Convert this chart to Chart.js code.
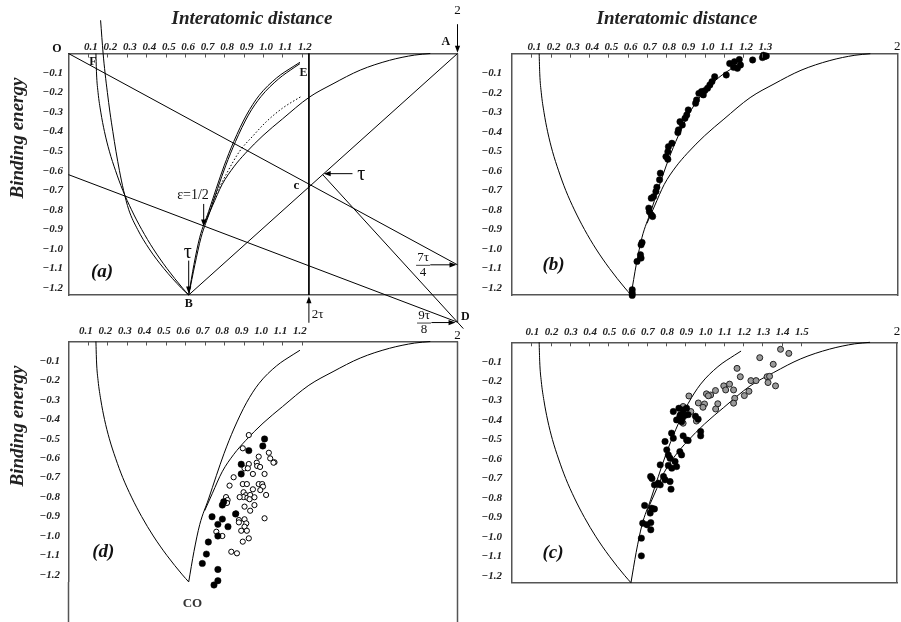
<!DOCTYPE html>
<html><head><meta charset="utf-8">
<script src="https://cdn.jsdelivr.net/npm/chart.js@4.4.1/dist/chart.umd.min.js"></script>
<style>
html,body{margin:0;padding:0;background:#fff;}
#wrap{position:relative;width:901px;height:622px;overflow:hidden;background:#fff;}
canvas{position:absolute;left:0;top:0;pointer-events:none;}
</style></head><body>
<div id="wrap">
<canvas id="ca" width="901" height="622"></canvas>
<canvas id="cb" width="901" height="622"></canvas>
<canvas id="cd" width="901" height="622"></canvas>
<canvas id="cc" width="901" height="622"></canvas>
</div>
<script>
// ---------------- tick labels ----------------
const xTicksA = [0.1,0.2,0.3,0.4,0.5,0.6,0.7,0.8,0.9,1.0,1.1,1.2];
const xTicksB = [0.1,0.2,0.3,0.4,0.5,0.6,0.7,0.8,0.9,1.0,1.1,1.2,1.3];
const xTicksC = [0.1,0.2,0.3,0.4,0.5,0.6,0.7,0.8,0.9,1.0,1.1,1.2,1.3,1.4,1.5];
const xTicksD = [0.1,0.2,0.3,0.4,0.5,0.6,0.7,0.8,0.9,1.0,1.1,1.2];
const yTicks  = [-0.1,-0.2,-0.3,-0.4,-0.5,-0.6,-0.7,-0.8,-0.9,-1.0,-1.1,-1.2];

// ---------------- curves ----------------
const leftCurve  = [[0.141,0],[0.144,-0.1],[0.152,-0.2],[0.166,-0.3],[0.185,-0.4],[0.21,-0.5],[0.242,-0.6],[0.279,-0.7],[0.324,-0.8],[0.376,-0.9],[0.436,-1.0],[0.506,-1.1],[0.586,-1.2],[0.618,-1.236]];
const innerCurve = [[0.618,-1.236],[0.645,-1.08],[0.675,-0.94],[0.72,-0.81],[0.76,-0.69],[0.80,-0.575],[0.85,-0.45],[0.915,-0.315],[0.98,-0.215],[1.07,-0.125],[1.155,-0.067],[1.19,-0.045]];
const outerCurve = [[0.7,-0.87],[0.74,-0.78],[0.79,-0.67],[0.85,-0.58],[0.91,-0.51],[1.0,-0.42],[1.1,-0.335],[1.236,-0.225],[1.36,-0.155],[1.5,-0.085],[1.65,-0.035],[1.78,-0.008],[1.86,0]];
// panel (a) extra curves
const leftCurveA2  = [[0.165,0.17],[0.178,0],[0.188,-0.1],[0.2,-0.2],[0.213,-0.3],[0.228,-0.4],[0.244,-0.5],[0.262,-0.6],[0.283,-0.7],[0.31,-0.8],[0.355,-0.9],[0.415,-1.0],[0.49,-1.1],[0.58,-1.2],[0.618,-1.236]];
const innerCurveA2 = [[0.618,-1.236],[0.65,-1.08],[0.682,-0.94],[0.727,-0.81],[0.767,-0.69],[0.808,-0.575],[0.859,-0.45],[0.925,-0.315],[0.99,-0.22],[1.08,-0.13],[1.16,-0.072],[1.19,-0.052]];
const dottedCurveA = [[0.7,-0.87],[0.75,-0.74],[0.81,-0.62],[0.88,-0.5],[0.95,-0.42],[1.016,-0.35],[1.1,-0.28],[1.196,-0.22]];
// panel (a) straight construction lines
const lineOD     = [[0,0],[2,-1.0815]];
const lineFD     = [[0,-0.62],[2,-1.375]];
const lineBA     = [[0.618,-1.236],[2,0]];
const lineTauD   = [[1.307,-0.62],[2.03,-1.408]];
const line2tau   = [[1.236,0],[1.236,-1.236]];
const edgeRightA = [[2,0],[2,-1.375]];
// panel (d) extended frame
const edgeLeftD  = [[0,-1.236],[0,-1.5]];
const edgeRightD = [[2,0],[2,-1.5]];

// ---------------- data points ----------------
const bPoints = [[1.31,-0.015],[1.30,-0.02],[1.32,-0.012],[1.305,-0.008],[1.249,-0.032],
[1.186,-0.058],[1.155,-0.041],[1.18,-0.03],[1.13,-0.05],[1.15,-0.07],[1.17,-0.075],[1.112,-0.109],
[1.052,-0.118],[1.038,-0.143],[1.027,-0.16],[1.015,-0.177],[1.001,-0.189],[0.984,-0.194],[0.993,-0.211],[0.97,-0.203],[0.958,-0.237],[0.953,-0.254],
[0.915,-0.288],[0.907,-0.314],[0.898,-0.331],[0.872,-0.348],[0.884,-0.365],[0.864,-0.39],[0.861,-0.404],
[0.83,-0.459],[0.812,-0.476],[0.809,-0.502],[0.799,-0.527],[0.809,-0.541],
[0.77,-0.612],[0.766,-0.646],[0.752,-0.684],[0.747,-0.706],[0.735,-0.732],[0.723,-0.74],
[0.71,-0.791],[0.713,-0.809],[0.723,-0.825],[0.73,-0.834],
[0.675,-0.967],[0.67,-0.979],[0.667,-1.03],[0.67,-1.047],[0.649,-1.064],
[0.624,-1.209],[0.624,-1.226],[0.624,-1.238]];

const cBlack = [[0.838,-0.356],[0.867,-0.339],[0.889,-0.348],[0.907,-0.339],[0.872,-0.38],[0.885,-0.39],[0.9,-0.375],[0.875,-0.372],
[0.855,-0.399],[0.881,-0.408],[0.915,-0.372],[0.953,-0.38],[0.967,-0.395],
[0.98,-0.459],[0.98,-0.481],[0.829,-0.467],[0.838,-0.493],[0.795,-0.51],[0.889,-0.481],[0.907,-0.502],[0.915,-0.505],
[0.804,-0.553],[0.812,-0.579],[0.821,-0.596],[0.872,-0.562],[0.881,-0.579],
[0.77,-0.63],[0.847,-0.613],[0.855,-0.639],[0.83,-0.647],[0.812,-0.633],
[0.72,-0.69],[0.727,-0.70],[0.787,-0.69],[0.795,-0.707],[0.76,-0.724],[0.77,-0.733],[0.74,-0.733],[0.821,-0.716],[0.826,-0.755],
[0.689,-0.839],[0.726,-0.853],[0.718,-0.878],[0.74,-0.857],[0.679,-0.93],[0.701,-0.938],[0.721,-0.927],[0.721,-0.964],
[0.672,-1.007],[0.672,-1.098]];

const cGrey = [[1.395,-0.036],[1.438,-0.057],[1.287,-0.079],[1.357,-0.113],[1.169,-0.134],[1.186,-0.177],[1.325,-0.177],[1.338,-0.175],
[1.241,-0.197],[1.268,-0.197],[1.33,-0.207],[1.369,-0.224],[1.10,-0.224],[1.13,-0.215],[1.11,-0.245],[1.151,-0.245],
[1.057,-0.248],[1.231,-0.252],[1.207,-0.274],[1.157,-0.288],[1.032,-0.271],[1.01,-0.265],[1.02,-0.275],[0.919,-0.276],
[1.0,-0.317],[1.069,-0.316],[0.968,-0.312],[0.992,-0.334],[1.058,-0.343],[1.151,-0.313],[0.889,-0.33],[0.929,-0.356],
[0.958,-0.405],[0.889,-0.416]];

const dFilled = [[1.008,-0.501],[0.999,-0.537],[0.927,-0.561],[0.888,-0.631],[0.888,-0.681],[0.791,-0.841],[0.798,-0.824],
[0.738,-0.901],[0.791,-0.913],[0.768,-0.94],[0.82,-0.952],[0.859,-0.887],[0.768,-1.0],[0.719,-1.031],
[0.709,-1.093],[0.688,-1.141],[0.768,-1.172],[0.768,-1.23],[0.748,-1.252],[0.678,-1.302],[0.709,-1.428]];

const dOpen = [[0.927,-0.481],[0.896,-0.549],[0.978,-0.592],[1.03,-0.572],[1.037,-0.601],[1.059,-0.621],[0.968,-0.623],[0.927,-0.63],
[0.97,-0.64],[0.985,-0.645],[0.905,-0.652],[0.922,-0.652],[1.054,-0.623],[1.008,-0.681],[0.948,-0.681],[0.849,-0.698],
[0.828,-0.741],[0.896,-0.733],[0.917,-0.733],[0.978,-0.733],[0.996,-0.733],[1.0,-0.746],[0.948,-0.76],[0.986,-0.764],
[0.9,-0.775],[0.912,-0.79],[0.9,-0.8],[0.92,-0.803],[0.934,-0.789],[0.956,-0.801],[0.88,-0.8],[1.016,-0.789],[0.931,-0.811],
[0.956,-0.841],[0.905,-0.849],[0.934,-0.87],[1.008,-0.909],[0.862,-0.884],[0.81,-0.8],[0.818,-0.815],[0.815,-0.83],
[0.876,-0.918],[0.876,-0.93],[0.905,-0.914],[0.914,-0.935],[0.905,-0.952],[0.888,-0.973],[0.917,-0.973],[0.927,-1.012],
[0.896,-1.029],[0.76,-0.978],[0.791,-1.0],[0.837,-1.081],[0.866,-1.089]];

// ---------------- rendering helpers ----------------
const W = 901, H = 622;
const SERIF = "'Liberation Serif','DejaVu Serif',serif";
const FRAME = '#555';
const pts = a => a.map(p => ({x: p[0], y: p[1]}));

function curve(arr, extra) {
  return Object.assign({data: pts(arr), showLine: true, pointRadius: 0, pointHoverRadius: 0,
    borderColor: '#000', borderWidth: 1, fill: false, cubicInterpolationMode: 'monotone', clip: false, order: 2}, extra || {});
}
function straight(arr, extra) {
  return Object.assign({data: pts(arr), showLine: true, pointRadius: 0, pointHoverRadius: 0,
    borderColor: '#000', borderWidth: 1, fill: false, tension: 0, clip: false, order: 2}, extra || {});
}
function dots(arr, extra) {
  return Object.assign({data: pts(arr), showLine: false, pointRadius: 3.2, pointHoverRadius: 0,
    pointBackgroundColor: '#000', pointBorderColor: '#000', pointBorderWidth: 0.5, clip: false, order: 0}, extra || {});
}

function drawArrow(ctx, x1, y1, x2, y2) {
  const a = Math.atan2(y2 - y1, x2 - x1), L = 7, w = 2.6;
  ctx.strokeStyle = '#000'; ctx.fillStyle = '#000'; ctx.lineWidth = 1;
  ctx.beginPath(); ctx.moveTo(x1, y1); ctx.lineTo(x2 - L * 0.7 * Math.cos(a), y2 - L * 0.7 * Math.sin(a)); ctx.stroke();
  ctx.beginPath(); ctx.moveTo(x2, y2);
  ctx.lineTo(x2 - L * Math.cos(a) + w * Math.sin(a), y2 - L * Math.sin(a) - w * Math.cos(a));
  ctx.lineTo(x2 - L * Math.cos(a) - w * Math.sin(a), y2 - L * Math.sin(a) + w * Math.cos(a));
  ctx.closePath(); ctx.fill();
}

const annot = {
  id: 'annot',
  afterDraw(chart, args, o) {
    const ctx = chart.ctx, xs = chart.scales.x, ys = chart.scales.y, ca = chart.chartArea;
    const X = v => xs.getPixelForValue(v), Y = v => ys.getPixelForValue(v);
    ctx.save();
    // small tick marks inside the frame, at the x tick values
    ctx.strokeStyle = FRAME; ctx.lineWidth = 1;
    xs.ticks.forEach(t => {
      const x = Math.round(X(t.value)) + 0.5;
      ctx.beginPath(); ctx.moveTo(x, ca.top); ctx.lineTo(x, ca.top + 4); ctx.stroke();
    });
    (o.arrows || []).forEach(a => drawArrow(ctx, X(a[0]), Y(a[1]), X(a[2]), Y(a[3])));
    ctx.textBaseline = 'middle';
    (o.texts || []).forEach(t => {
      ctx.font = t.font; ctx.fillStyle = t.color || '#111'; ctx.textAlign = t.align || 'center';
      ctx.fillText(t.text, X(t.x), Y(t.y));
    });
    (o.fracs || []).forEach(f => {
      const cx = X(f.x), cy = Y(f.y);
      ctx.font = f.font; ctx.fillStyle = '#111'; ctx.textAlign = 'center';
      ctx.fillText(f.num, cx, cy - 7); ctx.fillText(f.den, cx, cy + 7.5);
      ctx.strokeStyle = '#111'; ctx.lineWidth = 0.8;
      ctx.beginPath(); ctx.moveTo(cx - 7, cy + 0.5); ctx.lineTo(cx + 7, cy + 0.5); ctx.stroke();
    });
    (o.page || []).forEach(t => {
      ctx.save(); ctx.translate(t.px, t.py); ctx.rotate(t.rot || 0);
      ctx.font = t.font; ctx.fillStyle = t.color || '#222'; ctx.textAlign = 'center';
      ctx.fillText(t.text, 0, 0); ctx.restore();
    });
    ctx.restore();
  }
};

const tickFont = {family: SERIF, size: 11, weight: 'bold', style: 'italic'};
const border = {display: true, color: FRAME, width: 1.5};

function makeScales(box, xt, o) {
  const s = {
    x: {type: 'linear', position: 'top', min: 0, max: 2,
      afterBuildTicks: sc => { sc.ticks = xt.map(v => ({value: v})); },
      afterFit: sc => { sc.height = box.top; },
      grid: {display: false, drawTicks: false}, border,
      ticks: {autoSkip: false, maxRotation: 0, font: tickFont, color: '#222', padding: o.xPad, labelOffset: o.xOff,
        callback: v => Number(v).toFixed(1)}},
    y: {type: 'linear', position: 'left', min: -1.236, max: 0,
      afterBuildTicks: sc => { sc.ticks = yTicks.map(v => ({value: v})); },
      afterFit: sc => { sc.width = box.left; },
      grid: {display: false, drawTicks: false}, border,
      ticks: {autoSkip: false, font: tickFont, color: '#222', padding: o.yPad,
        callback: v => '\u2212' + Math.abs(v).toFixed(1)}}
  };
  if (o.bottom) s.x2 = {type: 'linear', position: 'bottom', min: 0, max: 2,
      afterFit: sc => { sc.height = H - box.bottom; },
      grid: {display: false, drawTicks: false}, border, ticks: {display: false}};
  if (o.right) s.y2 = {type: 'linear', position: 'right', min: -1.236, max: 0,
      afterFit: sc => { sc.width = W - box.right; },
      grid: {display: false, drawTicks: false}, border, ticks: {display: false}};
  return s;
}

function makeChart(id, box, xt, datasets, o, ann) {
  return new Chart(document.getElementById(id), {
    type: 'scatter',
    data: {datasets},
    options: {
      responsive: false, devicePixelRatio: 1, animation: false, events: [],
      layout: {padding: {left: 0, top: 0, right: o.right ? 0 : W - box.right, bottom: o.bottom ? 0 : H - box.bottom}},
      scales: makeScales(box, xt, o),
      plugins: {legend: {display: false}, tooltip: {enabled: false}, annot: ann}
    },
    plugins: [annot]
  });
}

const fBold = "bold 12px " + SERIF;
const fPanel = "bold italic 19px " + SERIF;
const fTitle = "bold italic 19px " + SERIF;
const fTau = "20px " + SERIF;
const fSmall = "13px " + SERIF;
const frameStyle = {borderColor: FRAME, borderWidth: 1.5};

// ---------------- panel (a) ----------------
makeChart('ca', {left: 68.5, top: 53.5, right: 457.5, bottom: 295}, xTicksA, [
  curve(leftCurve), curve(leftCurveA2), curve(innerCurve), curve(innerCurveA2),
  curve(outerCurve), curve(dottedCurveA, {borderDash: [1.5, 2]}),
  straight(lineOD), straight(lineFD), straight(lineBA), straight(lineTauD), straight(line2tau),
  straight(edgeRightA, frameStyle)
], {xPad: 0, xOff: 3, yPad: 5.5, bottom: true, right: false}, {
  arrows: [[2, 0.15, 2, 0.004], [1.46, -0.615, 1.312, -0.615], [1.86, -1.0815, 1.995, -1.0815],
           [1.866, -1.377, 1.99, -1.377], [1.236, -1.378, 1.236, -1.243], [0.695, -0.77, 0.695, -0.885],
           [0.618, -1.06, 0.618, -1.228]],
  texts: [
    {text: 'O', x: -0.059, y: 0.023, font: fBold},
    {text: 'A', x: 1.94, y: 0.059, font: fBold},
    {text: '2', x: 2.0, y: 0.22, font: fSmall},
    {text: 'F', x: 0.126, y: -0.043, font: fBold},
    {text: 'E', x: 1.208, y: -0.1, font: fBold},
    {text: 'c', x: 1.172, y: -0.676, font: "bold 13px " + SERIF},
    {text: 'B', x: 0.618, y: -1.283, font: fBold},
    {text: 'D', x: 2.04, y: -1.35, font: fBold},
    {text: '\u03c4', x: 1.505, y: -0.62, font: fTau},
    {text: '\u03c4', x: 0.613, y: -1.018, font: fTau},
    {text: '\u03b5=1/2', x: 0.64, y: -0.727, font: "14px " + SERIF},
    {text: '2\u03c4', x: 1.251, y: -1.334, font: fSmall, align: 'left'},
    {text: '(a)', x: 0.172, y: -1.12, font: fPanel}
  ],
  fracs: [{num: '7\u03c4', den: '4', x: 1.823, y: -1.0815, font: fSmall},
          {num: '9\u03c4', den: '8', x: 1.828, y: -1.377, font: fSmall}],
  page: [
    {text: 'Interatomic distance', px: 252, py: 19, font: fTitle},
    {text: 'Interatomic distance', px: 677, py: 19, font: fTitle},
    {text: 'Binding energy', px: 18, py: 138, rot: -Math.PI / 2, font: fTitle},
    {text: 'Binding energy', px: 18, py: 426, rot: -Math.PI / 2, font: fTitle}
  ]
});

// ---------------- panel (b) ----------------
makeChart('cb', {left: 512, top: 53.7, right: 900, bottom: 295}, xTicksB, [
  dots(bPoints),
  curve(leftCurve), curve(innerCurve), curve(outerCurve)
], {xPad: 0, xOff: 3, yPad: 10, bottom: true, right: true}, {
  texts: [
    {text: '(b)', x: 0.216, y: -1.081, font: fPanel},
    {text: '2', x: 2.0, y: 0.036, font: fSmall}
  ]
});

// ---------------- panel (d) ----------------
makeChart('cd', {left: 68.5, top: 341.5, right: 457.5, bottom: 581.9}, xTicksD, [
  dots(dFilled),
  dots(dOpen, {pointRadius: 2.6, pointBackgroundColor: '#fff', pointBorderColor: '#000', pointBorderWidth: 1}),
  curve(leftCurve), curve(innerCurve), curve(outerCurve),
  straight(edgeLeftD, frameStyle), straight(edgeRightD, frameStyle)
], {xPad: 3.5, xOff: -2, yPad: 8.5, bottom: false, right: false}, {
  texts: [
    {text: '(d)', x: 0.179, y: -1.081, font: fPanel},
    {text: 'CO', x: 0.637, y: -1.35, font: "bold 13px " + SERIF, color: '#333'},
    {text: '2', x: 2.0, y: 0.033, font: fSmall}
  ]
});

// ---------------- panel (c) ----------------
makeChart('cc', {left: 512, top: 342.3, right: 900, bottom: 582.7}, xTicksC, [
  dots(cBlack),
  dots(cGrey, {pointRadius: 3, pointBackgroundColor: '#9a9a9a', pointBorderColor: '#222', pointBorderWidth: 1}),
  curve(leftCurve), curve(innerCurve), curve(outerCurve)
], {xPad: 3.5, xOff: 1, yPad: 10, bottom: true, right: true}, {
  texts: [
    {text: '(c)', x: 0.213, y: -1.084, font: fPanel},
    {text: '2', x: 2.0, y: 0.055, font: fSmall}
  ]
});
</script>
</body></html>
